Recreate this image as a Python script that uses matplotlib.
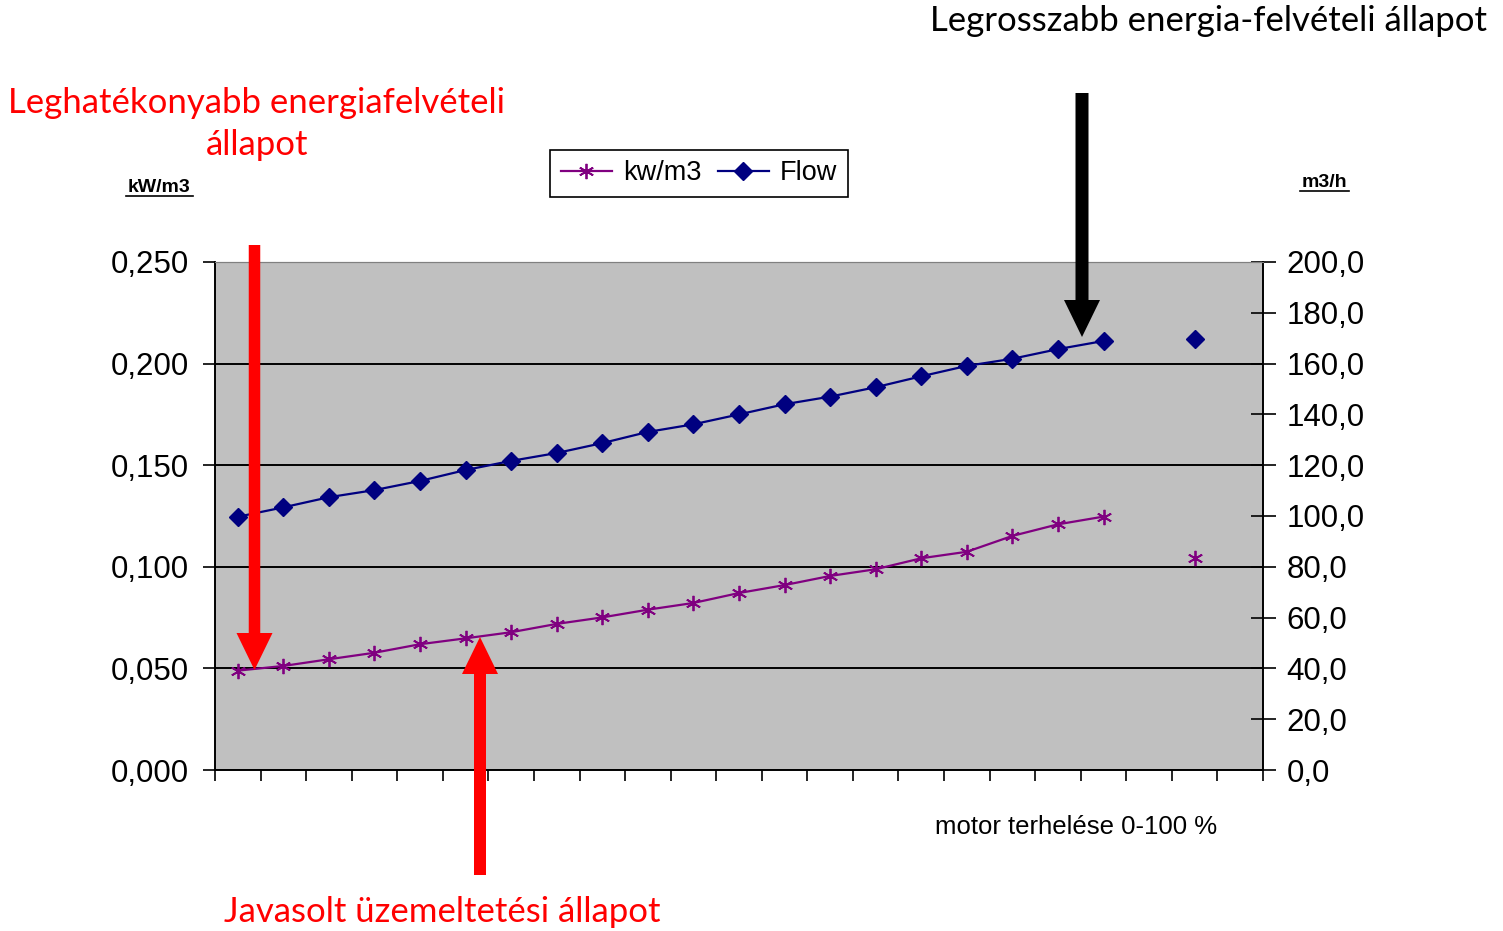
import numpy as np
import matplotlib
matplotlib.use("Agg")
import matplotlib.pyplot as plt
from matplotlib.patches import FancyArrow
from matplotlib.lines import Line2D
from matplotlib.ticker import FuncFormatter, FixedLocator

# data (23 load steps, two gaps)
nan = np.nan
steps = np.arange(1, 24)
kw_m3 = [0.0489, 0.0512, 0.0545, 0.0577, 0.0619, 0.0648, 0.0678, 0.0719, 0.0751, 0.0789,
         0.0822, 0.0871, 0.0910, 0.0955, 0.0988, 0.1042, 0.1074, 0.1152, 0.1209, 0.1247,
         nan, 0.1042, nan]
flow = [99.7, 103.4, 107.4, 110.2, 113.8, 118.1, 121.7, 124.8, 128.7, 133.1,
        136.1, 140.0, 144.0, 147.0, 150.7, 155.0, 159.1, 161.9, 165.7, 168.9,
        nan, 169.6, nan]
left_ticks = [0.0, 0.05, 0.10, 0.15, 0.20, 0.25]
right_ticks = [0, 20, 40, 60, 80, 100, 120, 140, 160, 180, 200]

W, H = 1503, 931
fig = plt.figure(figsize=(W / 100, H / 100), dpi=100)
plt.rcParams['font.family'] = ['Liberation Sans', 'DejaVu Sans']

# plot area in pixels: x 215..1263, y 262..770
ax = fig.add_axes([215 / W, 1 - 770 / H, (1263 - 215) / W, (770 - 262) / H])
ax.set_facecolor('#c0c0c0')
ax2 = ax.twinx()

l1, = ax.plot(steps, kw_m3, color='#800080', lw=1.6, marker=(6, 2, 0), ms=11,
              mew=1.3, label='kw/m3', zorder=3)
l2, = ax2.plot(steps, flow, color='#000080', lw=1.6, marker='D', ms=9,
               label='Flow', zorder=3)

ax.set_xlim(0.5, 23.5)
ax.set_ylim(0, 0.25)
ax2.set_ylim(0, 200)

ax.yaxis.set_major_locator(FixedLocator(left_ticks))
ax.yaxis.set_major_formatter(FuncFormatter(lambda v, p: f"{v:.3f}".replace('.', ',')))
ax2.yaxis.set_major_locator(FixedLocator(right_ticks))
ax2.yaxis.set_major_formatter(FuncFormatter(lambda v, p: f"{v:.1f}".replace('.', ',')))
ax.set_xticks(np.arange(0.5, 24, 1))
ax.set_xticklabels([])

ax.grid(axis='y', color='black', lw=1.4)
ax.set_axisbelow(True)
ax.tick_params(axis='y', labelsize=22.5, length=9, width=1.2, pad=10)
ax.tick_params(axis='x', length=8, width=1.2)
ax2.tick_params(axis='y', labelsize=22.5, length=18, width=1.2, direction='inout', pad=8)

for a in (ax, ax2):
    a.spines['top'].set_color('#808080')
    a.spines['left'].set_linewidth(1.2)
    a.spines['bottom'].set_linewidth(1.2)
    a.spines['right'].set_linewidth(1.2)

leg = fig.legend([l1, l2], ['kw/m3', 'Flow'], loc='center', ncol=2,
                 bbox_to_anchor=(699 / W, 1 - 173.5 / H), fontsize=19.5,
                 frameon=True, fancybox=False, edgecolor='black', framealpha=1,
                 handlelength=1.9, handletextpad=0.4, columnspacing=0.6,
                 borderpad=0.4, borderaxespad=0)
leg.get_frame().set_linewidth(1.2)

# axis unit labels (bold, underlined)
fig.text(159 / W, 1 - 192 / H, 'kW/m3', fontsize=14, fontweight='bold',
         ha='center', va='baseline')
fig.add_artist(Line2D([126 / W, 193 / W], [1 - 196 / H, 1 - 196 / H], color='black', lw=1.2))
fig.text(1324 / W, 1 - 187 / H, 'm3/h', fontsize=14, fontweight='bold',
         ha='center', va='baseline')
fig.add_artist(Line2D([1300 / W, 1349 / W], [1 - 191 / H, 1 - 191 / H], color='black', lw=1.2))

fig.text(1076 / W, 1 - 834 / H, 'motor terhelése 0-100 %', fontsize=18.5,
         ha='center', va='baseline')

# annotations
ann = ['Lato', 'DejaVu Sans']
fig.text(1487 / W, 1 - 31 / H, 'Legrosszabb energia-felvételi állapot', fontsize=25,
         ha='right', va='baseline', family=ann, color='black')
fig.text(257 / W, 1 - 113 / H, 'Leghatékonyabb energiafelvételi', fontsize=25,
         ha='center', va='baseline', family=ann, color='#ff0000')
fig.text(257 / W, 1 - 155 / H, 'állapot', fontsize=25,
         ha='center', va='baseline', family=ann, color='#ff0000')
fig.text(442 / W, 1 - 922 / H, 'Javasolt üzemeltetési állapot', fontsize=25,
         ha='center', va='baseline', family=ann, color='#ff0000')

# arrows in inches from the bottom-left corner
tr = fig.dpi_scale_trans
def arrow(x, y0, y1, color, w):
    a = FancyArrow(x, y0, 0, y1 - y0, width=w, head_width=0.36, head_length=0.37,
                   length_includes_head=True, color=color, lw=0, transform=tr, zorder=10)
    fig.add_artist(a)

arrow(2.545, (H - 245) / 100, (H - 670) / 100, '#ff0000', 0.115)
arrow(4.80, (H - 875) / 100, (H - 637) / 100, '#ff0000', 0.12)
arrow(10.82, (H - 93) / 100, (H - 337) / 100, 'black', 0.13)

fig.savefig('out.png', dpi=100)
